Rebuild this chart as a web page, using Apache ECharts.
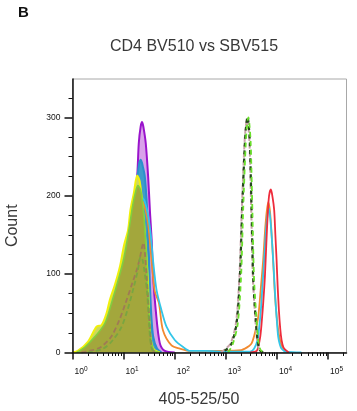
<!DOCTYPE html>
<html>
<head>
<meta charset="utf-8">
<script src="https://cdn.jsdelivr.net/npm/echarts@6/dist/echarts.min.js"></script>
<style>
html,body{margin:0;padding:0;background:#fff;}
#chart{width:357px;height:411px;}
</style>
</head>
<body>
<div id="chart"></div>
<script>
// ---- tick values ----
const yMajorTicks = [0, 100, 200, 300];
const yMinorTicks = [25, 50, 75, 125, 150, 175, 225, 250, 275, 325];
const xMajorTicks = [1, 10, 100, 1000, 10000, 100000];
const xMinorTicks = [2,3,4,5,6,7,8,9,20,30,40,50,60,70,80,90,200,300,400,500,600,700,800,900,
  2000,3000,4000,5000,6000,7000,8000,9000,20000,30000,40000,50000,60000,70000,80000,90000,200000];

// ---- series values (x = fluorescence, y = count) ----
const purpleX = [2, 4, 7, 10, 12, 15, 18.4, 19.8, 21.5, 23, 24.5, 27.1, 30.2, 32.6, 35.6, 37.8, 42.5, 51, 64, 100];
const purpleY = [0, 8, 30, 70, 100, 160, 224, 267, 288, 294, 287, 267, 224, 182, 140, 96, 54, 12, 2, 0];

const blueX = [2, 4, 7, 10, 12, 15, 18, 20, 21.7, 24, 26, 28.9, 31, 33, 35, 38, 45, 55];
const blueY = [0, 8, 30, 70, 100, 160, 215, 240, 246, 236, 224, 182, 130, 80, 45, 20, 5, 0];

const cyanX = [2, 4, 7, 10, 13, 16, 19, 22, 25, 28, 31, 34, 38, 44, 55, 69, 100, 146, 200, 400, 1000, 2000, 3000, 3580, 4170, 4500, 4840, 5200, 5620, 6200, 6950, 7600, 8430, 8900, 9400, 10000, 10570, 11400, 12300, 15000, 30000];
const cyanY = [0, 6, 25, 60, 110, 160, 190, 198, 195, 185, 170, 150, 115, 80, 54, 33, 16, 7, 2, 2, 1, 1, 1, 5, 16, 33, 54, 85, 118, 162, 184, 162, 118, 90, 63, 38, 20, 10, 5, 1, 0];

const orangeX = [2, 4, 7, 10, 13, 16, 19, 22, 26, 30, 36, 40.7, 49, 59, 86.5, 126, 200, 500, 1000, 2000, 2355, 2800, 3185, 3700, 4290, 4800, 5370, 6000, 6730, 7300, 8050, 8600, 9100, 9800, 10570, 11800, 13200, 16000];
const orangeY = [0, 6, 25, 58, 105, 150, 185, 195, 185, 165, 110, 78, 63, 28, 9, 5, 2, 2, 2, 3, 5, 8, 11.5, 25, 45, 80, 118, 165, 192, 180, 139, 105, 75, 48, 28.5, 12, 5, 0];

const redX = [3000, 4000, 4290, 4700, 5000, 5400, 5800, 6200, 6550, 7000, 7600, 8200, 8810, 9300, 9820, 10300, 10900, 11600, 12300, 13300, 14300, 17000];
const redY = [0, 2, 7, 20, 37, 65, 96.5, 140, 173, 200, 208, 198, 182, 150, 118, 85, 54, 30, 15.7, 7, 4, 0];

const yellowX = [1.0, 1.27, 2.02, 2.95, 3.70, 4.63, 5.37, 6.73, 8.43, 10.2, 12.2, 13.6, 15.8, 18.4, 20.7, 23.8, 26.6, 29.8, 31.8, 34.1, 39, 51];
const yellowY = [0, 2, 14, 33, 35, 50, 67, 86, 109, 137, 156, 182, 203, 226, 218, 182, 143, 92, 41, 16, 4, 0];

const greenX = [1.2, 1.75, 2.73, 4.29, 5.8, 7.8, 10.1, 12.6, 15.1, 17.3, 19, 21.7, 25, 28.3, 31, 34, 39, 51];
const greenY = [0, 7, 20, 37, 63, 92, 120, 155, 188, 206, 213, 206, 172, 115, 56, 18, 3, 0];

const brownDashX = [1.5, 2.5, 3.6, 5.7, 8.2, 10.9, 14.7, 18, 21, 23, 24.5, 26, 28, 30, 32, 34, 37, 45];
const brownDashY = [0, 3, 7, 20, 41, 63, 88, 105, 122, 135, 140, 128, 100, 70, 40, 15, 3, 0];

const oliveDashX = [2, 4, 6, 9, 12, 16, 19, 21.5, 23.5, 26, 28.5, 31, 33, 36, 42];
const oliveDashY = [0, 5, 15, 32, 55, 85, 105, 122, 118, 100, 80, 45, 18, 4, 0];

const darkDashX = [800, 1033, 1294, 1618, 1880, 2085, 2355, 2500, 2660, 2800, 2950, 3185, 3420, 3810, 4170, 4630, 5500];
const darkDashY = [0, 4, 11.5, 37, 96.5, 182, 267, 290, 301, 290, 267, 182, 96.5, 45, 15.7, 3, 0];

const pinkDashX = [800, 1000, 1250, 1580, 1840, 2050, 2310, 2460, 2620, 2760, 2910, 3140, 3380, 3760, 4100, 4550, 5400];
const pinkDashY = [0, 5, 12, 38, 97, 182, 266, 289, 298, 288, 265, 180, 95, 44, 15, 3, 0];

const limeDashX = [1100, 1350, 1700, 1980, 2180, 2450, 2600, 2760, 2900, 3060, 3300, 3550, 3950, 4300, 4800, 5600];
const limeDashY = [0, 10, 36, 96, 182, 267, 290, 300, 290, 267, 182, 96, 45, 15, 3, 0];

const zip = (xs, ys) => xs.map((x, i) => [x, ys[i]]);

let zCounter = 2;
function line(name, xs, ys, color, width, opts) {
  return Object.assign({
    name, type: 'line', data: zip(xs, ys), symbol: 'none', smooth: 0.3,
    lineStyle: { color, width }, silent: true, z: zCounter++
  }, opts || {});
}

const chart = echarts.init(document.getElementById('chart'), null, { renderer: 'canvas' });
const FONT = 'Liberation Sans, Arial, sans-serif';
const option = {
  animation: false,
  backgroundColor: '#fff',
  grid: { left: 72.5, right: 10.5, top: 79, bottom: 58.5, show: true, borderColor: '#a8a8a8', borderWidth: 1,
          containLabel: false, outerBoundsMode: 'none' },
  graphic: [
    { type: 'text', left: 18, top: 5, style: { text: 'B', font: 'bold 15px ' + FONT, fill: '#111' } },
    { type: 'text', x: 194, y: 47, style: { text: 'CD4 BV510 vs SBV515', font: '16px ' + FONT, fill: '#383838', textAlign: 'center', textVerticalAlign: 'middle' } }
  ],
  xAxis: [
    {
      type: 'log', logBase: 10, min: 1, max: 229000, z: 30,
      name: '405-525/50', nameLocation: 'middle', nameGap: 39,
      nameTextStyle: { fontFamily: FONT, fontSize: 16, color: '#383838', padding: [0, 21, 0, 0] },
      axisLine: { show: true, lineStyle: { color: '#111', width: 1.5 } },
      axisTick: { show: true, customValues: xMajorTicks, length: 7, lineStyle: { color: '#111', width: 1.5 } },
      axisLabel: {
        customValues: xMajorTicks, margin: 13, align: 'left', padding: [0, 0, 0, 2],
        formatter: v => '{b|10}{s|' + Math.round(Math.log10(v)) + '}',
        rich: {
          b: { fontFamily: FONT, fontSize: 8.5, color: '#111' },
          s: { fontFamily: FONT, fontSize: 6.5, color: '#111', padding: [0, 0, 6, 0] }
        }
      },
      splitLine: { show: false }
    },
    {
      type: 'log', logBase: 10, min: 1, max: 229000, position: 'bottom',
      axisLine: { show: false },
      axisTick: { show: true, customValues: xMinorTicks, length: 3.5, lineStyle: { color: '#111', width: 1 } },
      axisLabel: { show: false }, splitLine: { show: false }
    }
  ],
  yAxis: [
    {
      type: 'value', min: 0, max: 349, z: 30,
      name: 'Count', nameLocation: 'middle', nameGap: 52, nameRotate: 90,
      nameTextStyle: { fontFamily: FONT, fontSize: 16, color: '#383838', padding: [0, 20, 0, 0] },
      axisLine: { show: true, lineStyle: { color: '#111', width: 1.5 } },
      axisTick: { show: true, customValues: yMajorTicks, length: 8, lineStyle: { color: '#111', width: 1.5 } },
      axisLabel: { customValues: yMajorTicks, margin: 12, fontFamily: FONT, fontSize: 8.5, color: '#111' },
      splitLine: { show: false }
    },
    {
      type: 'value', min: 0, max: 349, position: 'left',
      axisLine: { show: false },
      axisTick: { show: true, customValues: yMinorTicks, length: 4, lineStyle: { color: '#111', width: 1 } },
      axisLabel: { show: false }, splitLine: { show: false }
    }
  ],
  series: [
    line('purple', purpleX, purpleY, '#9a14cc', 2, { areaStyle: { color: '#d9a2ea', opacity: 1 } }),
    line('blue', blueX, blueY, '#2a90cc', 2, { areaStyle: { color: '#3f9ccb', opacity: 1 } }),
    line('orange', orangeX, orangeY, '#f28a30', 1.8),
    line('cyan', cyanX, cyanY, '#33c6e8', 1.8),
    line('red', redX, redY, '#ee2c3c', 1.8),
    line('yellow', yellowX, yellowY, '#f0f00c', 2, { areaStyle: { color: '#cfd85c', opacity: 1 } }),
    line('green', greenX, greenY, '#80cf3e', 1.6, { areaStyle: { color: '#a3a73c', opacity: 1 } }),
    line('brownDash', brownDashX, brownDashY, '#a07a55', 1.8, { lineStyle: { color: '#a07a55', width: 1.8, type: [5, 3] } }),
    line('oliveDash', oliveDashX, oliveDashY, '#79a640', 1.8, { lineStyle: { color: '#79a640', width: 1.8, type: [5, 3] } }),
    line('pinkDash', pinkDashX, pinkDashY, '#c9a3aa', 2, { lineStyle: { color: '#c9a3aa', width: 2, type: [5, 3] } }),
    line('darkDash', darkDashX, darkDashY, '#24481c', 2.2, { lineStyle: { color: '#24481c', width: 2.2, type: [4, 4], dashOffset: 4 } }),
    line('limeDash', limeDashX, limeDashY, '#6ae02a', 1.8, { lineStyle: { color: '#6ae02a', width: 1.8, type: [5, 4] } })
  ]
};
chart.setOption(option);
</script>
</body>
</html>
